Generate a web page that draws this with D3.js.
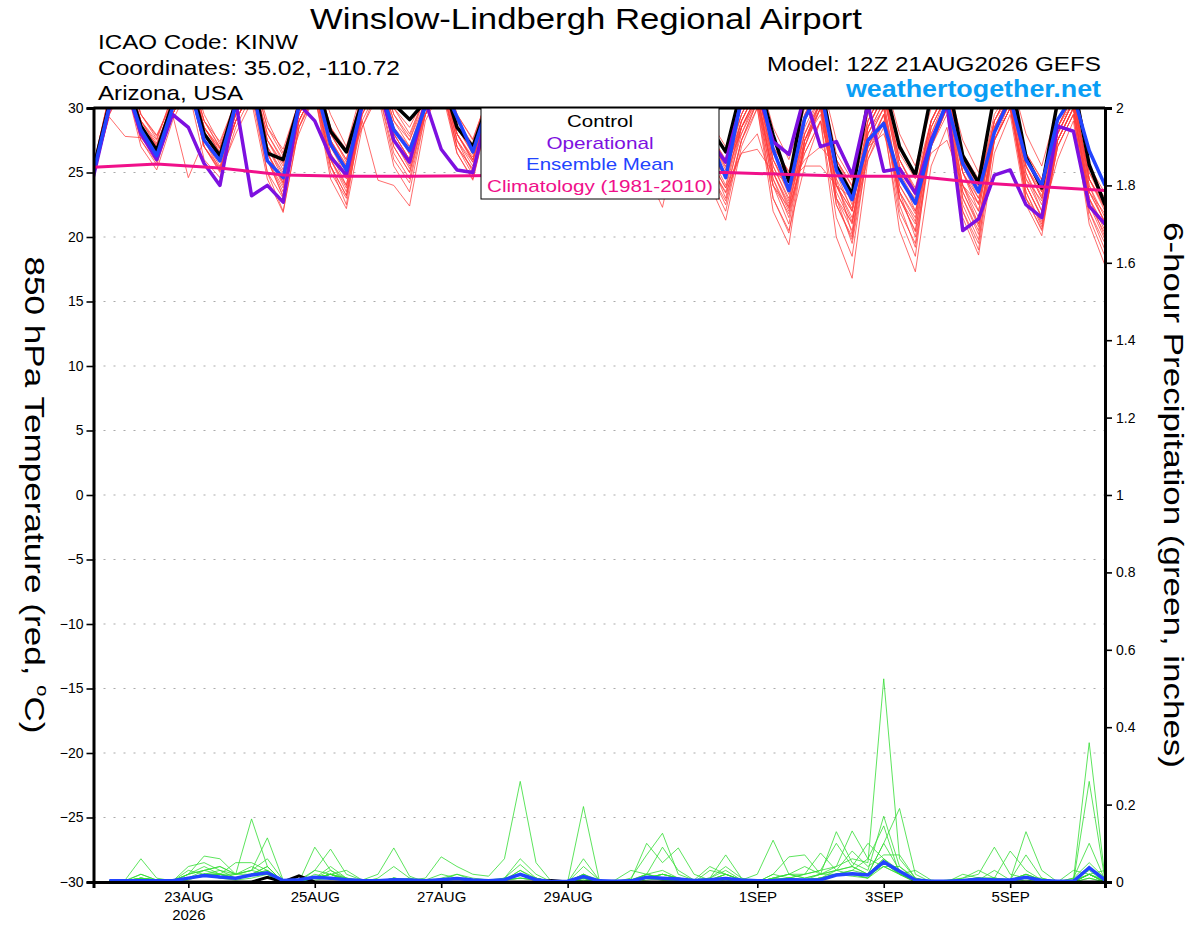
<!DOCTYPE html>
<html>
<head>
<meta charset="utf-8">
<script src="https://cdn.jsdelivr.net/npm/d3@7"></script>
<style>
  body { margin: 0; background: #fff; }
  text { font-family: "Liberation Sans", Arial, Helvetica, sans-serif; }
</style>
</head>
<body>
<script>
// ---- data (6-hourly, 12Z 21AUG2026 .. 12Z 06SEP2026) ----
var runStart = "2026-08-21T12:00:00Z";

var control = [25.3,
  30.3,32.5,28.6,26.7, 30.3,32.5,28.0,26.3, 30.5,33,26.5,26.0, 30.2,32.5,28.2,26.6,
  30.5,33,30.3,29.1, 30.5,32.5,28.5,27.0, 30.5,33,29,27.5, 31,33.5,29.5,27.5,
  30.5,33,28.5,27, 30.5,33,28.5,26.6, 31.5,32.3,27.9,24.3, 31,32,25.5,23.3,
  30.5,32,27,24.8, 31,32.5,26.3,24.2, 31,32.5,26.2,23.8, 30.5,32,25.6,22.5];

var operational = [24.7,
  30,32,28.0,26.0, 29.5,28.5,25.7,24.0, 30.5,23.2,24.0,22.7, 30.3,29.0,26.2,24.8,
  30.2,32,27.5,25.8, 30.5,26.8,25.2,25.0, 30,32,28,26, 30,32,28,26,
  30,32,27.5,25.5, 29.5,31.5,27.5,25.8, 30.5,31.5,27.4,26.4, 31,27.0,27.4,24.8,
  30.3,25.1,25.3,23.4, 27.5,30.3,20.5,21.4, 24.8,25.2,22.5,21.5, 28.6,28.2,22.4,21.0];

var ensMean = [25.0,
  30.1,32,28.3,26.3, 30.0,32,27.5,25.9, 30.2,32,25.9,24.6, 30.2,32,27.2,25.2,
  30.3,32,28.3,26.7, 30.1,32,29.3,26.6, 30.3,32,28.5,26.5, 30.5,32.5,28.5,26.5,
  30.3,32.5,28,26, 30,32,27.5,24.6, 30.8,32.5,26.8,23.6, 29.2,31.5,25.2,22.9,
  27.5,28.8,24.6,22.6, 27.3,30.5,25.7,23.5, 28.1,30.8,26.0,24.0, 29.1,31,26.7,24.0];

// climatology, daily at 12Z
var climo = [25.4, 25.65, 25.35, 24.8, 24.7, 24.7, 24.75, 24.8, 24.9, 25.0, 25.0,
  24.85, 24.7, 24.7, 24.2, 23.9, 23.6];

var members = [
  [25.2, 30.5,33,29,27.5, 31,33.5,29.5,27.2, 30.5,33,29,26.5, 30.5,33,29.5,27, 31.5,34,30,28.5, 31,33.5,29.5,27.5, 31,33,29,27, 31,33.5,29.5,27.5, 31.5,34,30,28, 31,33,29,27, 30.5,33,28.5,26, 30,32.5,27.5,25, 30,32.5,28,25.5, 30,32,27.5,25, 30.5,32.5,28,25.5, 30,32,26.5,24],
  [24.8, 29.8,32.5,28.5,26.5, 30,32.5,28,26, 29.5,32,27,24.5, 29.5,32,27.5,25, 30.5,33,28.5,26.5, 30.5,33,28.5,26.5, 30,32.5,28,26, 30,32.5,28,26, 30,32.5,27.5,25.5, 29.5,32,27,24.5, 28.5,31,24.5,21.5, 27,30.5,23,19.5, 26.5,29.5,23.5,20, 27,30,24,21, 28,31,25,22, 27.5,30,23,20],
  [25.3, 30.5,33,28.5,27, 30,32.5,27.5,25.5, 29,31.5,25,22, 28.5,31.5,25.5,22.5, 30,32.5,28,26, 29.5,32.5,27.5,25, 30.5,33,29,27, 30.5,33,28.5,26.5, 29.5,32,26.5,24, 28.5,31.5,24.5,22, 27.5,30.5,23,20.5, 25.5,29,20,16.8, 26,28.5,21.5,18.5, 28,31,25,22, 28.5,31,25.5,23, 28,30.5,24,21],
  [25.0, 29.3,27.8,27.7,26.2, 30,32.5,28.5,26.8, 29.5,32,27,25, 29,31.5,26,23.5, 29.5,32,27,25, 30,32.5,28,26, 30,32.5,27.5,25.5, 30,32.5,28,26, 30.5,33,29,27, 29.5,32,27.5,25.5, 28.5,31,25.5,23, 28,31,24,21.5, 26,29,20.5,17.3, 25.5,28.5,22,19, 27.5,30.5,24,21.5, 26,29,21,17.8],
  [24.6, 29.5,32,27,25.2, 29,31.5,26,24.6, 28.5,31,25,23, 29,31.5,26,24, 30,32.5,28.5,27, 29.5,32,26.5,24.5, 29.5,32,27.5,25.5, 30,32.5,28.5,27, 30,32.5,28,26, 28,31,24,21.3, 27,30,22,19.4, 27.5,30.5,24,22, 26.5,29,23,21, 27.5,30,25,23, 27.5,30,24.5,22, 28,30.5,25,22.5],
  [25.5, 31,33.5,29.5,27.8, 30.5,33,29,27, 30,32.5,28,26, 30.5,33,28.5,26.5, 31,33.5,29.5,27.5, 31,33.5,29,27, 31.5,34,30,28, 31,33.5,29.5,27.5, 30.5,33,28.5,26.5, 30,33,28,26, 29.5,32,26.5,24.5, 29,31.5,26,23.5, 28.5,31,25,22, 27,30,21.5,18.6, 26.5,29.5,22.5,20.1, 27.5,30,22.5,20.3],
  [25.1, 30,32.5,28.5,26.8, 29.5,24.6,27.5,25.8, 29,31.5,26.5,24.2, 28,31,24.5,22.2, 28.5,31.5,26.5,24.5, 30,32.5,28,26.2, 30,32.5,28.5,26.8, 29.5,32,27,25, 28.5,31,25.5,23, 28.5,31,25.5,23.5, 28,31,24.5,22, 27,30,22.5,20, 28.5,31,25.5,23.5, 29,31.5,26,24, 29.5,31.5,26.5,24.5, 28.5,31,24.5,22],
  [24.9, 30,32.5,28,26, 29.5,32,27,25.2, 29,31.5,26,23.5, 29,31.5,26.5,24.5, 29,24.4,24,22.4, 29,31.5,26.5,24.4, 29.5,32,28,26, 29.5,32,27.5,25.5, 29.5,32,27,25, 29,31.5,26.5,24, 29,31.5,26,23.5, 26.5,29,21.5,18.5, 27,29.5,22,19.5, 27.5,30,23,20.5, 28,30.5,23.5,21, 27,29.5,22,19],
  [25.4, 30.5,33,28.5,27.2, 30.5,33,28.5,26.5, 29.5,32,26.5,24, 30,32.5,27.5,25.5, 30.5,33,28.5,26.5, 30,32.5,28,25.8, 31,33.5,29.5,27.5, 31,33.5,30,28, 31,33.5,29.5,27.5, 30.5,33,28.5,26.5, 30,32.5,27,25, 29.5,32,26,24, 29.5,32,26.5,24.5, 29,31.5,25.5,23, 29,31.5,26,23.5, 28.5,31,24,21.5],
  [25.0, 30,32.5,28,26.5, 29.5,32,27,25, 28,30.5,24.5,21.9, 28.5,31,25,23, 29.5,32,27.5,25.5, 30,32.5,28,26, 30,32.5,28,26.5, 29.5,32,27,24.5, 28.5,31,25,22.3, 28,30.5,25,22.8, 27.5,30,23,20.3, 27.5,30.5,23.5,21, 27.5,30,23,20.5, 28,30.5,24,21.5, 27.5,30,23,20.5, 27,29.5,21.5,18.5],
  [25.2, 30.5,33,29,27.3, 30,32.5,28,26.3, 30,32.5,27.5,25.5, 29.5,32,26.5,24, 30,32.5,28,26, 29.5,32,27,24.8, 29.5,32,27.5,25.5, 30,32.5,28.5,26.5, 29.5,32,27.5,25.5, 29.5,32,27,25, 29,31.5,26,23.8, 26,27,25.5,22.5, 27,28,24.5,23, 26.5,27.5,24,22, 28.5,31,26,24, 28,30.5,25,23],
  [24.7, 29.5,32,27.5,25.8, 30,32.5,27.5,25.8, 29,31.5,26,23.8, 29,31.5,25.5,23.2, 30.5,33,29,27.5, 30.5,33,28.5,26.8, 30.5,33,29,27, 30.5,33,29,27, 30.5,33,28.5,26.8, 29.5,32,26.5,24.6, 28.5,31,25,22.6, 27.5,30,23,20.5, 28,30,24,22, 27,29.5,22,19.5, 28,30.5,25,22.5, 27.5,30,23,20.8],
  [25.6, 31,33.5,29.5,27.6, 31,33.5,29,27.4, 30.5,33,28.5,26.3, 30.5,33,28,26, 31,33.5,30,28, 31,33.5,29,27.2, 30.5,33,28,26, 30,32.5,27.5,25.5, 29.5,32,26.5,24.5, 29.5,32,26,23.8, 26.5,26.8,25,24.2, 25.5,25.5,24,23, 27,29,23.5,21.5, 27.5,30,23.5,21, 28.5,31,25.5,23.5, 28.5,31,24.5,22.2],
  [25.2, 30,32.5,28.5,26.6, 30,32.5,28,26.2, 29.5,32,27,24.8, 29.5,32,27.5,25.2, 28.5,31,25.5,23.5, 29.5,32,27.5,25.8, 31,33.5,29.5,27.8, 30.5,33,29,26.8, 30.5,33,29,27.2, 30,32.5,28,25.7, 28,30.5,24,21, 27.5,30,24.5,22.2, 28.5,31,26,23.8, 29,31.5,26.5,24.5, 27.5,30,24,21.5, 27.5,30,23,20.5],
  [25.3, 30.5,33,29,27, 30.5,33,28.5,26.5, 30,32.5,28,25.8, 30,32.5,28,26, 30.5,33,29,27, 30.5,33,29,26.8, 30,32.5,28.5,26.5, 30.5,33,29,27, 30,32.5,28,26, 29.5,32,27,24.8, 29,31.5,25.5,22.8, 28.5,31,25,22, 29,31.5,26,23.5, 28.5,31,25,22.5, 29,31,25.5,23, 28.5,30.5,24.5,22.5],
  [24.9, 30,32.5,28,26, 29.5,32,27.5,25.2, 29.5,32,26.5,24.2, 29.5,32,27,25, 30,32.5,28,26, 30,32.5,27.5,25.5, 30.5,33,28.5,26.8, 30,32.5,28,26, 30,32.5,27.5,25.5, 28.5,31,26,23, 28.5,30.5,25,22.2, 26.5,29,24.5,20.2, 27.5,30,22.5,19.2, 27,30,23.5,20.8, 27.5,30,23.5,20.8, 27.5,30,23.5,21.8],
  [25.1, 30,32.5,28.5,26.4, 30,32.5,28,25.9, 29.5,32,26.5,24.4, 29.5,32,27,24.7, 30,32.5,27.5,25.3, 30,32.5,28,26, 30.5,33,28.5,26.6, 30,32.5,28,26.2, 29.5,32,27,25.2, 29,31.5,26,23.8, 28.5,31,25,22.4, 28,30.5,24,21.2, 28,30.5,24,21.8, 27.5,30,23,20.2, 28.5,31,24.5,22.8, 28,30.5,23.5,21.2],
  [25.4, 30.5,33,29,27.1, 30.5,33,28.5,26.9, 30,32.5,27.5,25.2, 30,32.5,28,25.8, 30.5,33,28.5,26.4, 30.5,33,28.5,26.4, 30.5,33,29,27.2, 30.5,33,28.5,26.8, 30,32.5,27.5,25.8, 30,32.5,27.5,25.2, 29.5,32,26.5,24.6, 29,31.5,26,23.9, 29,31.5,25.5,23.2, 29,31.5,26,23.8, 29,31.5,25.5,23.2, 28.5,31,24.5,22.3],
  [24.8, 29.8,32.5,27.5,25.6, 29.5,32,27,25.4, 29,31.5,26,23.2, 29,31.5,26,23.8, 29.5,32,27,25, 29.5,32,27,25.2, 30,32.5,27.5,25.8, 30,32.5,28,26.4, 29.5,32,27,24.9, 28.5,31,25,22.5, 27.5,30.5,24,21.8, 27,30,22.5,19.8, 27,29.5,23,20.4, 27.5,30,22.5,19.8, 27.5,30,23,20.6, 27,29.5,22,19.5],
  [25.5, 31,33.5,29.5,27.9, 30.5,33,29,26.9, 30.5,33,28.5,26.8, 30.5,33,28.5,26.8, 31,33.5,29.5,27.8, 31,33.5,29.5,27.6, 31,33.5,29.5,27.4, 31,33.5,29,27, 30.5,33,28.5,26.3, 30,33,28,25.9, 29.5,32,27,25.1, 29.5,32,26.5,24.4, 29,31.5,26,23.6, 29,31.5,26,24.1, 29,31.5,26.5,24.4, 29,31.5,25.5,23.4],
  [25.0, 30,32.5,28,26.3, 29.5,32,27,25.1, 29,31.5,26,23.1, 28.5,31,25.5,23.2, 29,31.5,26,24.2, 29.5,32,27,25.3, 30,32.5,28,25.9, 29.5,32,27.5,25.6, 29.5,32,27,24.3, 28.5,31,25.5,23.4, 26.5,28,24,22.3, 27.5,29.5,23,21.1, 28,30.5,23.5,21.2, 28.5,31,24,22.6, 28,30.5,23,21.2, 27.5,30,22.5,19.8],
  [25.3, 30.5,33,28.5,26.9, 30.5,33,28.5,26.6, 30,32.5,27.5,25.7, 30,32.5,27.5,25.6, 30,32.5,27.5,25.9, 30.5,33,28.5,26.9, 30.5,33,28.5,27.1, 30.5,33,29,27.3, 30,32.5,28,26.7, 30,32.5,27.5,25.4, 29,31.5,26,23.3, 28,30.5,24,22.0, 28.5,31,25,22.8, 28.5,31,25,22.6, 28,30.5,24,21.6, 28,30.5,23.5,21.1]
];

// 6-hour precipitation, steps 1..64 (inches)
var precipControl = [0,0,0,0,0,0,0,0,0,0,0.012,0,0.016,0,0,0, 0,0,0,0,0,0,0,0,0,0,0,0,0.004,0,0,0,
  0,0,0,0,0,0,0,0,0,0,0,0,0,0,0,0, 0,0,0,0,0,0,0,0,0,0,0,0,0,0,0,0];
var precipMean = [0.003,0.003,0.003,0.003,0.003,0.01,0.017,0.013,0.01,0.018,0.024,0.004,0.006,0.012,0.01,0.006,
  0.004,0.003,0.006,0.005,0.003,0.006,0.009,0.005,0.003,0.006,0.02,0.006,0.001,0.002,0.014,0.003,
  0.002,0.003,0.012,0.01,0.008,0.004,0.006,0.009,0.005,0.003,0.004,0.006,0.005,0.006,0.018,0.021,
  0.018,0.052,0.028,0.005,0.002,0.002,0.004,0.007,0.005,0.005,0.012,0.004,0.002,0.002,0.037,0.005];
var precipMembers = [
  [0.004,0.005,0.06,0.01,0.003,0.01,0.02,0.01,0.02,0.163,0.04,0,0.005,0.01,0.02,0.005, 0,0,0.01,0.005,0,0.01,0.02,0.005,0,0.005,0.03,0.01,0,0,0.01,0, 0,0.005,0.02,0.01,0.005,0,0.005,0.01,0,0,0.02,0.01,0.02,0.03,0.04,0.06, 0.05,0.525,0.06,0.01,0,0,0.005,0.01,0.005,0,0.01,0.005,0,0,0.02,0],
  [0.003,0.002,0.005,0.003,0.002,0.01,0.015,0.02,0.01,0.02,0.03,0,0,0.005,0.01,0.005, 0,0,0.005,0.005,0.01,0.065,0.04,0.02,0.015,0.06,0.26,0.05,0,0,0.005,0, 0,0,0.01,0.005,0.005,0,0,0.005,0,0,0.005,0.01,0.005,0.01,0.02,0.015, 0.01,0.04,0.02,0,0,0,0.005,0.01,0.005,0.005,0.01,0,0,0.005,0.36,0.01],
  [0.002,0.003,0.01,0.005,0.002,0.02,0.03,0.04,0.02,0.03,0.114,0.005,0,0.01,0.02,0.005, 0,0,0.01,0,0,0.005,0.01,0.005,0,0.005,0.02,0.01,0,0,0.195,0.005, 0,0,0.005,0.01,0.005,0,0.005,0.02,0.005,0,0.01,0.005,0.005,0.01,0.03,0.04, 0.02,0.1,0.19,0.02,0,0,0,0.005,0.005,0,0.005,0,0,0,0.26,0.005],
  [0.003,0.004,0.02,0.005,0.003,0.01,0.03,0.02,0.01,0.02,0.02,0,0,0.09,0.03,0.005, 0,0,0.005,0.005,0,0.005,0.01,0.005,0,0.01,0.02,0.005,0,0,0.01,0, 0,0.01,0.07,0.126,0.02,0.005,0.005,0.01,0.005,0,0.01,0.02,0.01,0.02,0.13,0.05, 0.03,0.17,0.04,0.005,0,0,0.005,0.01,0.005,0.005,0.02,0.005,0,0,0.02,0],
  [0.002,0.002,0.01,0.005,0.002,0.005,0.02,0.01,0.005,0.01,0.02,0,0,0.01,0.02,0.01, 0.005,0.02,0.088,0.015,0,0.005,0.01,0.005,0,0.005,0.01,0.005,0,0,0.005,0, 0,0,0.01,0.005,0.005,0,0.005,0.01,0.005,0.02,0.108,0.02,0.01,0.02,0.04,0.132, 0.06,0.145,0.02,0,0,0,0.005,0.01,0.01,0.005,0.13,0.03,0,0,0.01,0],
  [0.003,0.003,0.005,0.003,0.002,0.01,0.02,0.02,0.01,0.02,0.03,0.005,0.005,0.03,0.085,0.02, 0.005,0,0.01,0.005,0,0.005,0.01,0.005,0,0.005,0.01,0.005,0,0,0.01,0, 0,0.005,0.1,0.05,0.088,0.02,0.005,0.02,0.005,0,0.005,0.01,0.005,0.01,0.02,0.02, 0.01,0.05,0.02,0,0,0.005,0.01,0.02,0.09,0.02,0.01,0.005,0,0.01,0.1,0.005],
  [0.002,0.003,0.01,0.005,0.003,0.02,0.067,0.06,0.02,0.03,0.02,0,0,0.01,0.02,0.01, 0,0,0.01,0.005,0,0.005,0.01,0.005,0,0.005,0.02,0.01,0,0,0.02,0, 0,0,0.02,0.03,0.01,0.005,0.01,0.07,0.01,0,0.01,0.02,0.02,0.075,0.03,0.04, 0.1,0.06,0.02,0.005,0,0,0.005,0.005,0.01,0.005,0.02,0.005,0,0,0.02,0.005],
  [0.004,0.003,0.005,0.003,0.002,0.01,0.02,0.03,0.01,0.02,0.04,0,0,0.01,0.03,0.01, 0,0,0.005,0.01,0,0.005,0.02,0.01,0.005,0.01,0.06,0.02,0,0,0.01,0, 0,0.005,0.02,0.01,0.005,0,0.005,0.02,0.005,0,0.02,0.065,0.07,0.02,0.02,0.03, 0.02,0.1,0.03,0.005,0,0,0.005,0.005,0.01,0.08,0.03,0.005,0,0.005,0.03,0],
  [0.003,0.002,0.02,0.005,0.002,0.04,0.05,0.03,0.02,0.03,0.06,0.005,0,0.02,0.01,0.005, 0,0,0.005,0.005,0,0.005,0.01,0.005,0,0.005,0.02,0.01,0,0,0.06,0.005, 0,0,0.01,0.02,0.01,0,0.005,0.01,0.005,0,0.005,0.01,0.02,0.03,0.1,0.04, 0.02,0.06,0.03,0.005,0,0,0.005,0.01,0.01,0.005,0.07,0.01,0,0,0.02,0],
  [0.002,0.003,0.005,0.003,0.002,0.01,0.02,0.02,0.05,0.05,0.03,0,0,0.01,0.02,0.005, 0,0,0.01,0.005,0,0.005,0.01,0.005,0,0.005,0.01,0.005,0,0,0.02,0.005, 0,0,0.01,0.02,0.01,0.005,0.04,0.02,0.005,0,0.005,0.01,0.005,0.02,0.03,0.08, 0.04,0.07,0.07,0.01,0,0,0.005,0.01,0.005,0.005,0.02,0.005,0,0.01,0.05,0.01],
  [0.003,0.003,0.01,0.005,0.003,0.02,0.03,0.04,0.02,0.02,0.02,0,0,0.01,0.02,0.03, 0.005,0,0.005,0.005,0.005,0.02,0.01,0.005,0,0.005,0.02,0.005,0,0,0.01,0, 0,0,0.02,0.09,0.03,0.005,0.01,0.04,0.01,0,0.005,0.01,0.005,0.01,0.02,0.02, 0.02,0.06,0.02,0.005,0,0,0.005,0.005,0.03,0.005,0.01,0.005,0,0.005,0.02,0],
  [0.002,0.002,0.005,0.003,0.002,0.02,0.04,0.02,0.01,0.02,0.02,0,0,0.03,0.02,0.005, 0,0,0.005,0.005,0,0.005,0.01,0.005,0,0.01,0.045,0.01,0,0,0.01,0, 0.005,0.03,0.02,0.01,0.005,0,0.005,0.01,0.005,0,0.01,0.02,0.04,0.02,0.03,0.02, 0.02,0.04,0.04,0.01,0,0,0.005,0.01,0.005,0.005,0.01,0.01,0,0.03,0.02,0],
  [0.003,0.003,0.01,0.005,0.002,0.01,0.02,0.02,0.02,0.04,0.02,0,0,0.01,0.02,0.005, 0,0.01,0.04,0.01,0,0.005,0.01,0.005,0,0.005,0.02,0.005,0,0,0.04,0.005, 0,0,0.01,0.02,0.01,0,0.03,0.02,0.005,0,0.005,0.01,0.005,0.01,0.02,0.03, 0.06,0.04,0.02,0.005,0,0,0.01,0.03,0.01,0.005,0.01,0.005,0,0,0.02,0.03],
  [0.002,0.003,0.005,0.003,0.002,0.03,0.02,0.02,0.01,0.02,0.04,0,0,0.01,0.04,0.01, 0,0,0.005,0.005,0,0.005,0.01,0.005,0,0.005,0.03,0.005,0,0,0.02,0, 0,0,0.01,0.02,0.01,0.005,0.01,0.03,0.005,0,0.005,0.01,0.005,0.01,0.02,0.02, 0.01,0.05,0.02,0.03,0.005,0,0.02,0.01,0.005,0.005,0.01,0.005,0,0,0.01,0]
];

var tempTicks = [-30,-25,-20,-15,-10,-5,0,5,10,15,20,25,30];
var precipTicks = [0,0.2,0.4,0.6,0.8,1,1.2,1.4,1.6,1.8,2];
var dateTicks = ["2026-08-23","2026-08-25","2026-08-27","2026-08-29","2026-09-01","2026-09-03","2026-09-05"];
var dateLabels = ["23AUG","25AUG","27AUG","29AUG","1SEP","3SEP","5SEP"];

// ---- layout ----
var W = 1200, H = 927;
var pLeft = 93.5, pRight = 1105, pTop = 108, pBottom = 882;

var svg = d3.select("body").append("svg")
  .attr("width", W).attr("height", H);

var t0 = new Date(runStart);
function stepTime(i) { return new Date(t0.getTime() + i * 6 * 3600 * 1000); }

var x = d3.scaleUtc()
  .domain([t0, stepTime(64)])
  .range([pLeft, pRight]);
var yT = d3.scaleLinear().domain([-30, 30]).range([pBottom, pTop]);
var yP = d3.scaleLinear().domain([0, 2]).range([pBottom, pTop]);

svg.append("clipPath").attr("id", "plot")
  .append("rect").attr("x", pLeft).attr("y", pTop)
  .attr("width", pRight - pLeft).attr("height", pBottom - pTop);

// dotted grid
svg.append("g").selectAll("line")
  .data(tempTicks.filter(function (d) { return d > -30 && d < 30; }))
  .enter().append("line")
  .attr("x1", pLeft).attr("x2", pRight)
  .attr("y1", function (d) { return yT(d); })
  .attr("y2", function (d) { return yT(d); })
  .attr("stroke", "#aaa").attr("stroke-width", 1.2)
  .attr("stroke-dasharray", "2,8");

var plot = svg.append("g").attr("clip-path", "url(#plot)");

var lineT = d3.line()
  .x(function (d, i) { return x(stepTime(i)); })
  .y(function (d) { return yT(d); });

var lineP = d3.line()
  .x(function (d, i) { return x(stepTime(i + 1)); })
  .y(function (d) { return yP(d); });

var lineC = d3.line()
  .x(function (d, i) { return x(stepTime(i * 4)); })
  .y(function (d) { return yT(d); });

// precipitation
plot.selectAll(".pm").data(precipMembers).enter().append("path")
  .attr("d", lineP).attr("fill", "none")
  .attr("stroke", "#33dd33").attr("stroke-width", 0.8);
plot.append("path").datum(precipControl).attr("d", lineP)
  .attr("fill", "none").attr("stroke", "#000").attr("stroke-width", 3);
plot.append("path").datum(precipMean).attr("d", lineP)
  .attr("fill", "none").attr("stroke", "#2244ff").attr("stroke-width", 3.5);

// temperature members
plot.selectAll(".tm").data(members).enter().append("path")
  .attr("d", lineT).attr("fill", "none")
  .attr("stroke", "#ff3c3c").attr("stroke-width", 0.75);

plot.append("path").datum(control).attr("d", lineT)
  .attr("fill", "none").attr("stroke", "#000").attr("stroke-width", 3.5)
  .attr("stroke-linejoin", "round");
plot.append("path").datum(operational).attr("d", lineT)
  .attr("fill", "none").attr("stroke", "#7d10e0").attr("stroke-width", 3.5)
  .attr("stroke-linejoin", "round");
plot.append("path").datum(ensMean).attr("d", lineT)
  .attr("fill", "none").attr("stroke", "#2244ff").attr("stroke-width", 3.5)
  .attr("stroke-linejoin", "round");
plot.append("path").datum(climo).attr("d", lineC)
  .attr("fill", "none").attr("stroke", "#f0108a").attr("stroke-width", 3);

// ---- axes ----
var axL = svg.append("g").attr("transform", "translate(" + pLeft + ",0)")
  .call(d3.axisLeft(yT).tickValues(tempTicks).tickSize(7).tickPadding(3));
var axR = svg.append("g").attr("transform", "translate(" + pRight + ",0)")
  .call(d3.axisRight(yP).tickValues(precipTicks).tickSize(7).tickPadding(4)
    .tickFormat(function (d) { return d3.format("~g")(d); }));
var axB = svg.append("g").attr("transform", "translate(0," + pBottom + ")")
  .call(d3.axisBottom(x)
    .tickValues(dateTicks.map(function (d) { return new Date(d + "T00:00:00Z"); }))
    .tickSize(6).tickFormat(function (d, i) { return dateLabels[i]; }));

[axL, axR, axB].forEach(function (g) {
  g.selectAll(".domain").attr("stroke-width", 3);
  g.selectAll(".tick line").attr("stroke-width", 1.6);
  g.selectAll("text").attr("font-size", 14).attr("fill", "#000")
    .style("font-family", "'Liberation Sans', Arial, sans-serif");
});
axB.selectAll(".tick text").attr("font-size", 15);
axB.select(".tick text").append("tspan")
  .attr("x", 0).attr("dy", "1.2em").text("2026");

// top border
svg.append("line").attr("x1", pLeft).attr("x2", pRight)
  .attr("y1", pTop).attr("y2", pTop)
  .attr("stroke", "#000").attr("stroke-width", 3);

// ---- legend ----
var leg = svg.append("g");
leg.append("rect").attr("x", 481).attr("y", pTop).attr("width", 238).attr("height", 91)
  .attr("fill", "#fff").attr("stroke", "#000").attr("stroke-width", 1);
var legItems = [["Control", "#000", 66], ["Operational", "#7d10e0", 107],
  ["Ensemble Mean", "#2244ff", 148], ["Climatology (1981-2010)", "#f0108a", 226]];
leg.selectAll("text").data(legItems).enter().append("text")
  .attr("x", 600).attr("y", function (d, i) { return 127 + i * 21.7; })
  .attr("text-anchor", "middle").attr("font-size", 17)
  .attr("textLength", function (d) { return d[2]; })
  .attr("lengthAdjust", "spacingAndGlyphs")
  .attr("fill", function (d) { return d[1]; })
  .text(function (d) { return d[0]; });

// ---- titles ----
svg.append("text").attr("x", 586).attr("y", 29).attr("text-anchor", "middle")
  .attr("font-size", 29).attr("textLength", 552).attr("lengthAdjust", "spacingAndGlyphs")
  .text("Winslow-Lindbergh Regional Airport");
var info = [["ICAO Code: KINW", 200], ["Coordinates: 35.02, -110.72", 302], ["Arizona, USA", 145]];
svg.selectAll(".info").data(info).enter().append("text")
  .attr("x", 98).attr("y", function (d, i) { return 49 + i * 25.5; })
  .attr("font-size", 21)
  .attr("textLength", function (d) { return d[1]; })
  .attr("lengthAdjust", "spacingAndGlyphs")
  .text(function (d) { return d[0]; });
svg.append("text").attr("x", 1101).attr("y", 71).attr("text-anchor", "end")
  .attr("font-size", 21).attr("textLength", 334).attr("lengthAdjust", "spacingAndGlyphs")
  .text("Model: 12Z 21AUG2026 GEFS");
svg.append("text").attr("x", 1101).attr("y", 97).attr("text-anchor", "end")
  .attr("font-size", 23).attr("font-weight", "bold").attr("fill", "#0a9ef5")
  .attr("textLength", 255).attr("lengthAdjust", "spacingAndGlyphs")
  .text("weathertogether.net");

var midY = (pTop + pBottom) / 2;
var yl = svg.append("text")
  .attr("transform", "translate(25," + midY + ") rotate(90)")
  .attr("text-anchor", "middle").attr("font-size", 28)
  .attr("textLength", 477).attr("lengthAdjust", "spacingAndGlyphs");
yl.append("tspan").text("850 hPa Temperature (red, ");
yl.append("tspan").attr("font-size", 16).attr("dy", -12).text("o");
yl.append("tspan").attr("dy", 12).text("C)");

svg.append("text")
  .attr("transform", "translate(1164," + midY + ") rotate(90)")
  .attr("text-anchor", "middle").attr("font-size", 28)
  .attr("textLength", 546).attr("lengthAdjust", "spacingAndGlyphs")
  .text("6-hour Precipitation (green, inches)");
</script>
</body>
</html>
